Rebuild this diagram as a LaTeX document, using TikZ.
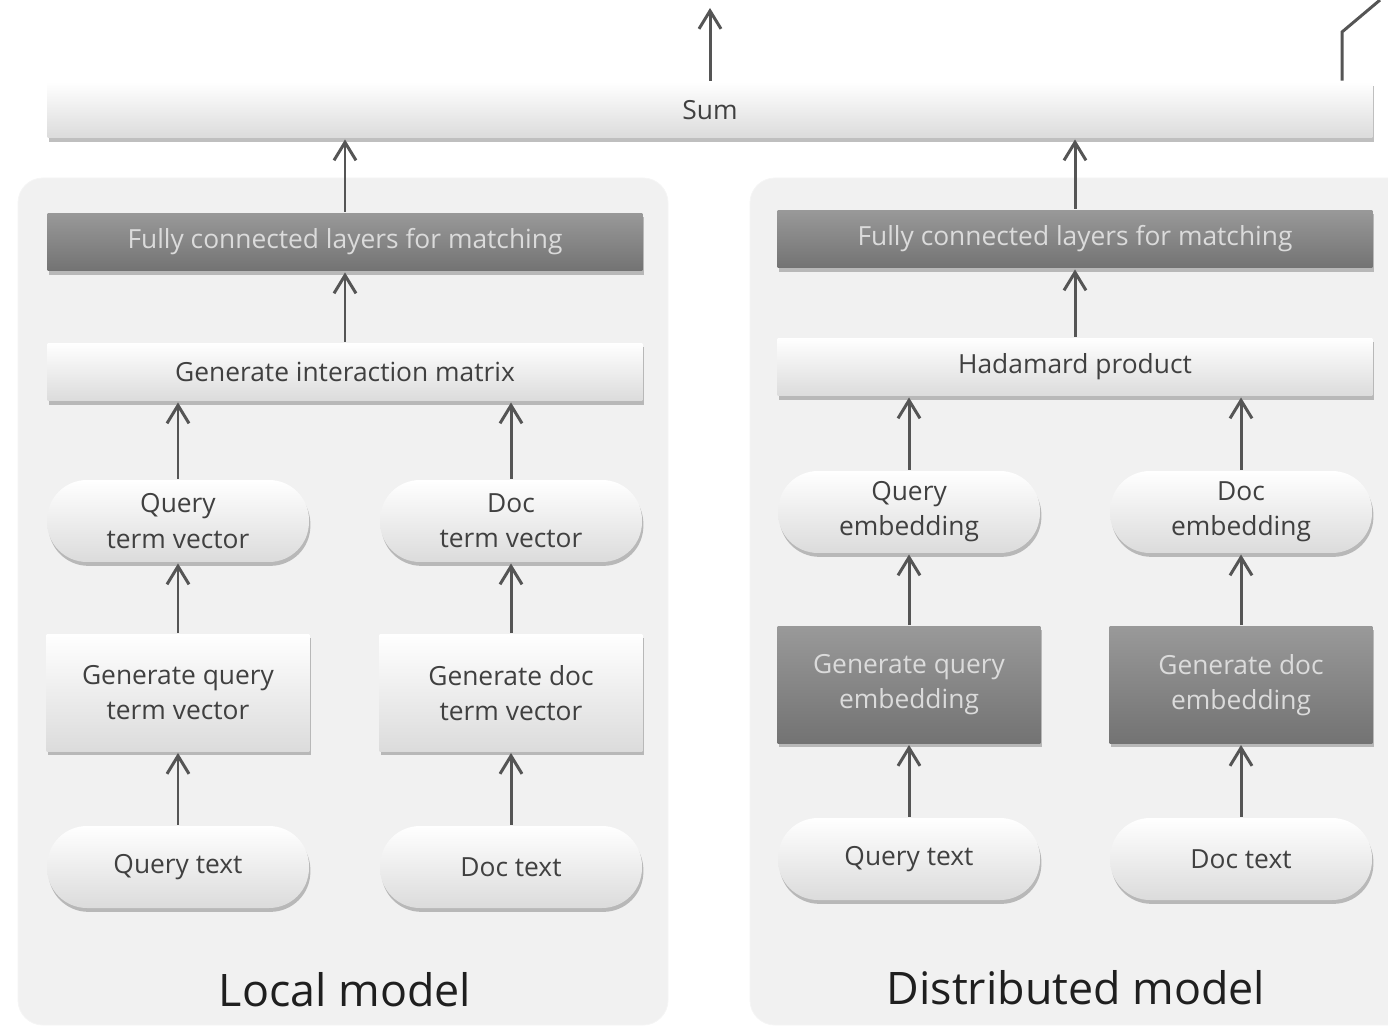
\documentclass[tikz,border=0pt]{standalone}
\usepackage{fontspec}
\setmainfont{Open Sans}
\usetikzlibrary{arrows.meta,shadows}
\definecolor{linegray}{HTML}{555555}
\definecolor{panelgray}{HTML}{F1F1F1}
\begin{document}
\begin{tikzpicture}[x=0.02cm, y=-0.02cm, line width=1.7pt,
    >={Straight Barb[length=3.6mm,width=4.4mm]},
    box/.style = {rectangle, top color=white, middle color=white!97!black, bottom color=black!14, text=black!75,
        font=\fontsize{15}{20}\selectfont, align=center, inner sep=0pt,
        drop shadow={shadow xshift=0.8pt, shadow yshift=-2.2pt, opacity=0.5}},
    dark/.style = {top color=black!40, middle color=black!46, bottom color=black!55, text=white!86!black},
    wide/.style = {box, minimum width=11.9cm, minimum height=1.16cm},
    pill/.style = {box, rounded corners=0.8cm, minimum width=5.24cm, minimum height=1.64cm},
    half/.style = {box, minimum width=5.26cm, minimum height=2.34cm},
    panel/.style = {fill=panelgray, draw=white!96!black, line width=0.5pt, rounded corners=0.5cm},
    title/.style = {font=\fontsize{25.5}{30}\selectfont, text=black!88},
    link/.style = {draw=linegray, ->}]
\useasboundingbox (0,0) rectangle (1388,1027);
\clip (0,0) rectangle (1388,1027);

% panels
\draw[panel] (18,178) rectangle (668,1025);
\draw[panel] (750,178) rectangle (1440,1025);

\node[wide, minimum width=26.5cm, minimum height=1.12cm] (sum) at (710,110) {Sum};

% local model
\node[wide, dark] (lfc)   at (345,242) {Fully connected layers for matching};
\node[wide]       (inter) at (345,372) {Generate interaction matrix};
\node[pill] (qtv) at (178,521) {Query\\term vector};
\node[pill] (dtv) at (511,521) {Doc\\term vector};
\node[half] (gqt) at (178,693) {Generate query\\term vector};
\node[half] (gdt) at (511,693) {Generate doc\\term vector};
\node[pill] (lqt) at (178,867) {Query text};
\node[pill] (ldt) at (511,867) {Doc text};
\node[title] (local) at (345,990) {Local model};

% distributed model
\node[wide, dark] (dfc) at (1075,239) {Fully connected layers for matching};
\node[wide]       (had) at (1075,367) {Hadamard product};
\node[pill] (qem) at (909,512) {Query\\embedding};
\node[pill] (dem) at (1241,512) {Doc\\embedding};
\node[half, dark] (gqe) at (909,685) {Generate query\\embedding};
\node[half, dark] (gde) at (1241,685) {Generate doc\\embedding};
\node[pill] (rqt) at (909,859) {Query text};
\node[pill] (rdt) at (1241,859) {Doc text};
\node[title] (dist) at (1076,988) {Distributed model};

\coordinate (out)   at (710,8);
\coordinate (bend)  at (1342,32);
\coordinate (away)  at (1380,0);

\draw[link] (sum.north) -- (out);
\draw[draw=linegray] (bend |- sum.north) -- (bend) -- (away);

\draw[link] (lfc.north) -- (lfc.north |- sum.south);
\draw[link] (inter) -- (lfc);
\draw[link] (qtv) -- (qtv |- inter.south);
\draw[link] (dtv) -- (dtv |- inter.south);
\draw[link] (gqt) -- (qtv);
\draw[link] (gdt) -- (dtv);
\draw[link] (lqt) -- (gqt);
\draw[link] (ldt) -- (gdt);

\draw[link] (dfc.north) -- (dfc.north |- sum.south);
\draw[link] (had) -- (dfc);
\draw[link] (qem) -- (qem |- had.south);
\draw[link] (dem) -- (dem |- had.south);
\draw[link] (gqe) -- (qem);
\draw[link] (gde) -- (dem);
\draw[link] (rqt) -- (gqe);
\draw[link] (rdt) -- (gde);
\end{tikzpicture}
\end{document}
